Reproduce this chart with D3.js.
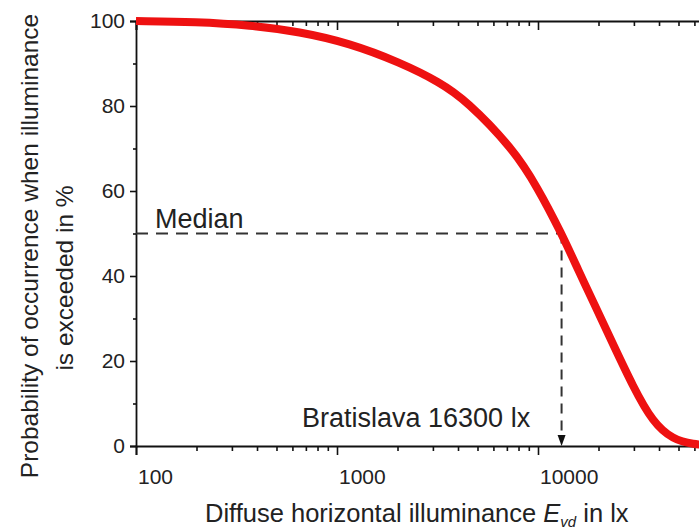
<!DOCTYPE html>
<html>
<head>
<meta charset="utf-8">
<script src="https://cdn.jsdelivr.net/npm/d3@7"></script>
<style>
  html, body { margin: 0; padding: 0; background: #fff; }
  svg { display: block; font-family: "Liberation Sans", Arial, sans-serif; }
</style>
</head>
<body>
<svg id="chart" width="699" height="531"></svg>
<script>
// ---- data ----
const illuminance = [100, 200, 370, 650, 1150, 2050, 3250, 4400, 7500, 9900, 13100, 16000, 18800, 23600, 29700, 37300, 47000, 59000, 75000];
const probability = [100, 99.8, 99, 97.5, 94.8, 90.3, 85.6, 81.3, 70, 61, 50, 41, 34, 24, 14, 5.5, 1.5, 0.4, 0.1];
const xMajorTicks = [100, 1000, 10000, 100000];
const xLabelTicks = [100, 1000, 10000];
const xTickLabels = ["100", "1000", "10000"];
const yMajorTicks = [0, 20, 40, 60, 80, 100];
const yMinorTicks = [10, 30, 50, 70, 90];
const medianProbability = 50;
const medianPosition = 13100;      // where the arrow is drawn in the reference
const medianLabel = "Median";
const cityLabel = "Bratislava 16300 lx";

// ---- layout ----
const svg = d3.select("#chart");
const x = d3.scaleLog().domain([100, 100000]).range([136, 739]);
const y = d3.scaleLinear().domain([0, 100]).range([446, 21]);
const minorX = x.ticks().filter(v => !xMajorTicks.includes(v));

const axisColor = "#111";

// bottom axis (ticks outward)
const gB = svg.append("g").attr("transform", `translate(0,${y(0)})`);
gB.call(d3.axisBottom(x).tickValues(xMajorTicks).tickSize(9).tickFormat(""));
gB.append("g").call(d3.axisBottom(x).tickValues(minorX).tickSize(5).tickFormat(""))
  .select(".domain").remove();
gB.selectAll("text").remove();
gB.selectAll("path.domain").attr("stroke", axisColor).attr("stroke-width", 1.8);
gB.selectAll(".tick line").attr("stroke", axisColor).attr("stroke-width", 1.6);
svg.selectAll(".xlab").data(xLabelTicks).join("text")
  .attr("class", "xlab")
  .attr("x", d => x(d) + 2)
  .attr("y", 484)
  .attr("font-size", 21)
  .attr("fill", "#222")
  .attr("text-anchor", "start")
  .text((d, i) => xTickLabels[i]);

// top axis (ticks inward)
const gT = svg.append("g").attr("transform", `translate(0,${y(100)})`);
gT.call(d3.axisTop(x).tickValues(xMajorTicks).tickSize(-9).tickFormat(""));
gT.append("g").call(d3.axisTop(x).tickValues(minorX).tickSize(-5).tickFormat(""))
  .select(".domain").remove();
gT.selectAll("path.domain").attr("stroke", axisColor).attr("stroke-width", 1.8);
gT.selectAll(".tick line").attr("stroke", axisColor).attr("stroke-width", 1.6);

// left axis (ticks outward)
const gL = svg.append("g").attr("transform", `translate(${x(100)},0)`);
gL.call(d3.axisLeft(y).tickValues(yMajorTicks).tickSize(6).tickPadding(5).tickFormat(d3.format("d")));
gL.append("g").call(d3.axisLeft(y).tickValues(yMinorTicks).tickSize(3).tickFormat(""))
  .select(".domain").remove();
gL.selectAll("path.domain").attr("stroke", axisColor).attr("stroke-width", 1.8);
gL.selectAll(".tick line").attr("stroke", axisColor).attr("stroke-width", 1.6);
gL.selectAll(".tick text").attr("font-size", 21).attr("fill", "#222")
  .attr("font-family", '"Liberation Sans", Arial, sans-serif');

// median dashed lines
svg.append("line")
  .attr("x1", x(100)).attr("x2", x(medianPosition) - 3)
  .attr("y1", y(medianProbability)).attr("y2", y(medianProbability))
  .attr("stroke", "#333").attr("stroke-width", 2).attr("stroke-dasharray", "12,8");
svg.append("line")
  .attr("x1", x(medianPosition)).attr("x2", x(medianPosition))
  .attr("y1", y(medianProbability)).attr("y2", y(0) - 8)
  .attr("stroke", "#333").attr("stroke-width", 2).attr("stroke-dasharray", "10,7");
const ax = x(medianPosition), ay = y(0);
svg.append("path")
  .attr("d", `M${ax - 4},${ay - 11} L${ax + 4},${ay - 11} L${ax},${ay} Z`)
  .attr("fill", "#111");

// curve
const line = d3.line()
  .x((d, i) => x(illuminance[i]))
  .y(d => y(d))
  .curve(d3.curveBasis);
svg.append("path")
  .datum(probability)
  .attr("d", line)
  .attr("fill", "none")
  .attr("stroke", "#ee1111")
  .attr("stroke-width", 8)
  .attr("stroke-linecap", "butt");

// annotations
svg.append("text").attr("x", 155).attr("y", 228).attr("font-size", 27).attr("fill", "#222").text(medianLabel);
svg.append("text").attr("x", 302).attr("y", 427).attr("font-size", 27).attr("fill", "#222").text(cityLabel);

// axis titles
const xt = svg.append("text").attr("x", 205).attr("y", 522).attr("font-size", 25.5).attr("fill", "#222");
xt.append("tspan").text("Diffuse horizontal illuminance ");
xt.append("tspan").attr("font-style", "italic").text("E");
xt.append("tspan").attr("font-style", "italic").attr("font-size", 15).attr("dy", 5).text("vd");
xt.append("tspan").attr("dy", -5).text(" in lx");

svg.append("text")
  .attr("transform", "translate(38,246) rotate(-90)")
  .attr("text-anchor", "middle").attr("font-size", 24.5).attr("fill", "#222")
  .text("Probability of occurrence when illuminance");
svg.append("text")
  .attr("transform", "translate(73,278) rotate(-90)")
  .attr("text-anchor", "middle").attr("font-size", 24.5).attr("fill", "#222")
  .text("is exceeded in %");
</script>
</body>
</html>
